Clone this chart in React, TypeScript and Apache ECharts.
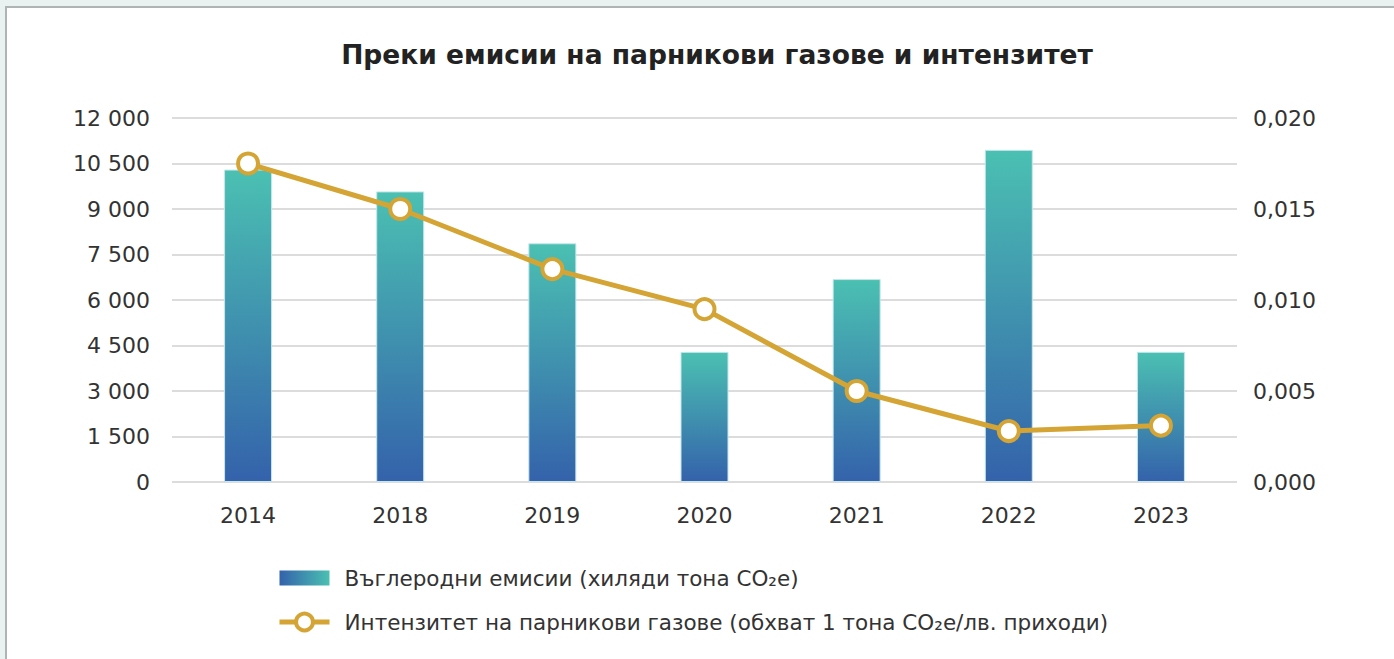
import React, { useEffect, useRef } from "react";
import * as echarts from "echarts";

const TITLE = "Преки емисии на парникови газове и интензитет";
const categories = ["2014", "2018", "2019", "2020", "2021", "2022", "2023"];
const emissions = [10300, 9580, 7870, 4290, 6690, 10950, 4290];
const intensity = [0.0175, 0.0150, 0.0117, 0.0095, 0.0050, 0.0028, 0.0031];
const barName = "Въглеродни емисии (хиляди тона CO₂е)";
const lineName = "Интензитет на парникови газове (обхват 1 тона CO₂е/лв. приходи)";

const FONT = "'DejaVu Sans', sans-serif";
const GOLD = "#d4a434";

export default function App() {
  const ref = useRef<HTMLDivElement>(null);
  useEffect(() => {
    document.body.style.margin = "0";
    const chart = echarts.init(ref.current!, null, { renderer: "svg" });
    const fmtLeft = (v: number) => {
      const s = String(Math.round(v));
      return s.replace(/\B(?=(\d{3})+(?!\d))/g, " ");
    };
    const fmtRight = (v: number) => v.toFixed(3).replace(".", ",");
    chart.setOption({
      animation: false,
      backgroundColor: "#e9f2f0",
      textStyle: { fontFamily: FONT },
      graphic: [
        {
          type: "rect",
          shape: { x: 6, y: 7, width: 1400, height: 700 },
          style: { fill: "#ffffff", stroke: "#aeb4b4", lineWidth: 2 },
          z: -10,
          silent: true,
        },
      ],
      title: {
        text: TITLE,
        left: 712,
        textAlign: "center",
        top: 36,
        textStyle: { fontSize: 26.5, fontWeight: "bold", color: "#222222", fontFamily: FONT },
      },
      grid: { left: 172, right: 157, top: 118, bottom: 177 },
      legend: {
        orient: "vertical",
        left: 272,
        top: 562,
        itemGap: 22,
        itemWidth: 50,
        itemHeight: 21,
        symbolKeepAspect: true,
        lineStyle: { width: 5, color: GOLD },
        textStyle: { fontSize: 21.5, color: "#333333", fontFamily: FONT, padding: [0, 0, 0, 10] },
        data: [
          {
            name: barName,
            icon: "path://M0,0H50V15H0Z",
            itemStyle: {
              color: new echarts.graphic.LinearGradient(0, 0, 1, 0, [
                { offset: 0, color: "#3462ab" },
                { offset: 1, color: "#4bc0b2" },
              ]),
              borderWidth: 0,
            },
          },
          {
            name: lineName,
            itemStyle: { color: "#ffffff", borderColor: GOLD, borderWidth: 4 },
          },
        ],
      },
      xAxis: {
        type: "category",
        data: categories,
        axisLine: { show: false },
        axisTick: { show: false },
        axisLabel: { fontSize: 22, color: "#333333", margin: 22, fontFamily: FONT },
      },
      yAxis: [
        {
          type: "value",
          min: 0,
          max: 12000,
          interval: 1500,
          axisLabel: { fontSize: 22, color: "#333333", margin: 22, formatter: fmtLeft, fontFamily: FONT },
          splitLine: { lineStyle: { color: "#dcdcdc", width: 2 } },
          axisLine: { show: false },
          axisTick: { show: false },
        },
        {
          type: "value",
          min: 0,
          max: 0.02,
          interval: 0.005,
          axisLabel: { fontSize: 22, color: "#333333", margin: 16, formatter: fmtRight, fontFamily: FONT },
          splitLine: { show: false },
          axisLine: { show: false },
          axisTick: { show: false },
        },
      ],
      series: [
        {
          name: barName,
          type: "bar",
          data: emissions,
          barWidth: 48,
          itemStyle: {
            color: new echarts.graphic.LinearGradient(0, 0, 0, 1, [
              { offset: 0, color: "#4bc0b2" },
              { offset: 1, color: "#3462ab" },
            ]),
            borderColor: "#c4e6ec",
            borderWidth: 1,
          },
        },
        {
          name: lineName,
          type: "line",
          yAxisIndex: 1,
          data: intensity,
          symbol: "circle",
          symbolSize: 20,
          lineStyle: { color: GOLD, width: 5 },
          itemStyle: { color: "#ffffff", borderColor: GOLD, borderWidth: 4 },
          z: 5,
        },
      ],
    });
    return () => chart.dispose();
  }, []);
  return <div ref={ref} style={{ width: 1394, height: 659 }} />;
}
